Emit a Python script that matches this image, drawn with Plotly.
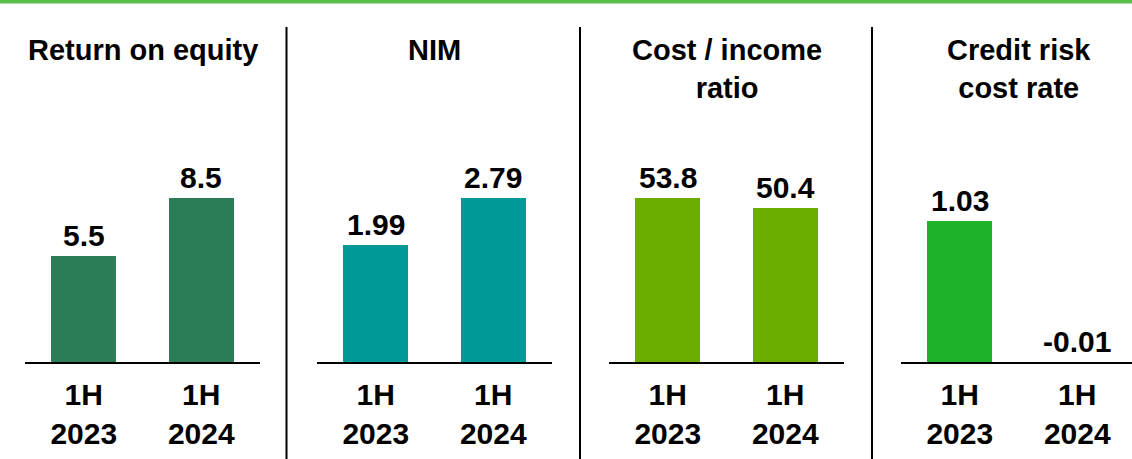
import plotly.graph_objects as go

# Data
panels = ["Return on equity", "NIM", "Cost / income<br>ratio", "Credit risk<br>cost rate"]
periods = ["1H<br>2023", "1H<br>2024"]
roe = [5.5, 8.5]
nim = [1.99, 2.79]
cost_income = [53.8, 50.4]
credit_cost = [1.03, -0.01]
value_labels = [["5.5", "8.5"], ["1.99", "2.79"], ["53.8", "50.4"], ["1.03", "-0.01"]]

series = [roe, nim, cost_income, credit_cost]
colors = ["#2b7d56", "#009b98", "#6aac00", "#1db22a"]

W, H = 1132, 459
FONT = "Liberation Sans, Arial, sans-serif"

# pixel geometry
base_px = 362      # baseline of the bars
top_px = 190       # top of plot area
panel_step = 292
axis_left = 25
axis_w = 235
y_dom = [1 - base_px / H, 1 - top_px / H]
plot_h = base_px - top_px
# scale per panel (px height of the tallest bar)
tallest_px = [164, 164, 164, 141.5]

fig = go.Figure()
for i, vals in enumerate(series):
    n = "" if i == 0 else str(i + 1)
    x0 = axis_left + panel_step * i
    x1 = min(x0 + axis_w, W)
    xmax = -0.5 + 2.0 * (x1 - x0) / axis_w
    ymax = max(vals) * plot_h / tallest_px[i]

    fig.add_trace(go.Bar(
        x=[0, 1], y=vals, width=0.55,
        marker=dict(color=colors[i], line=dict(width=0)),
        xaxis="x" + n, yaxis="y" + n,
        showlegend=False, hoverinfo="skip",
    ))
    for j, v in enumerate(vals):
        fig.add_annotation(
            x=j, y=max(v, 0), xref="x" + n, yref="y" + n,
            text="<b>%s</b>" % value_labels[i][j], showarrow=False,
            yanchor="bottom", yshift=2,
            font=dict(family=FONT, size=30, color="black"),
        )

    fig.update_layout(**{
        "xaxis" + n: dict(
            domain=[x0 / W, x1 / W], range=[-0.5, xmax],
            tickvals=[0, 1], ticktext=["<b>%s</b>" % p for p in periods],
            tickfont=dict(family=FONT, size=30, color="black"),
            ticklabelstandoff=5,
            showline=True, linecolor="black", linewidth=2,
            showgrid=False, zeroline=False, ticks="",
            anchor="y" + n, fixedrange=True,
        ),
        "yaxis" + n: dict(
            domain=y_dom, range=[0, ymax], visible=False,
            anchor="x" + n, fixedrange=True,
        ),
    })

    fig.add_annotation(
        x=(axis_left + axis_w / 2 + panel_step * i) / W, y=1 - 32 / H,
        xref="paper", yref="paper", xanchor="center", yanchor="top",
        text="<b>%s</b>" % panels[i], showarrow=False,
        font=dict(family=FONT, size=29, color="black"),
    )

# green rule along the top
fig.add_shape(type="rect", xref="paper", yref="paper",
              x0=0, x1=1, y0=1 - 3.5 / H, y1=1,
              fillcolor="#5bbd4b", line=dict(width=0))
# dividers between panels
for xp in [286.5, 580, 872]:
    fig.add_shape(type="line", xref="paper", yref="paper",
                  x0=xp / W, x1=xp / W, y0=0, y1=1 - 27 / H,
                  line=dict(color="black", width=2))

fig.update_layout(
    width=W, height=H,
    margin=dict(l=0, r=0, t=0, b=0),
    paper_bgcolor="white", plot_bgcolor="white",
    bargap=0,
)

fig.write_html("out.html", config={"displayModeBar": False},
               post_script="document.body.style.margin='0';")
